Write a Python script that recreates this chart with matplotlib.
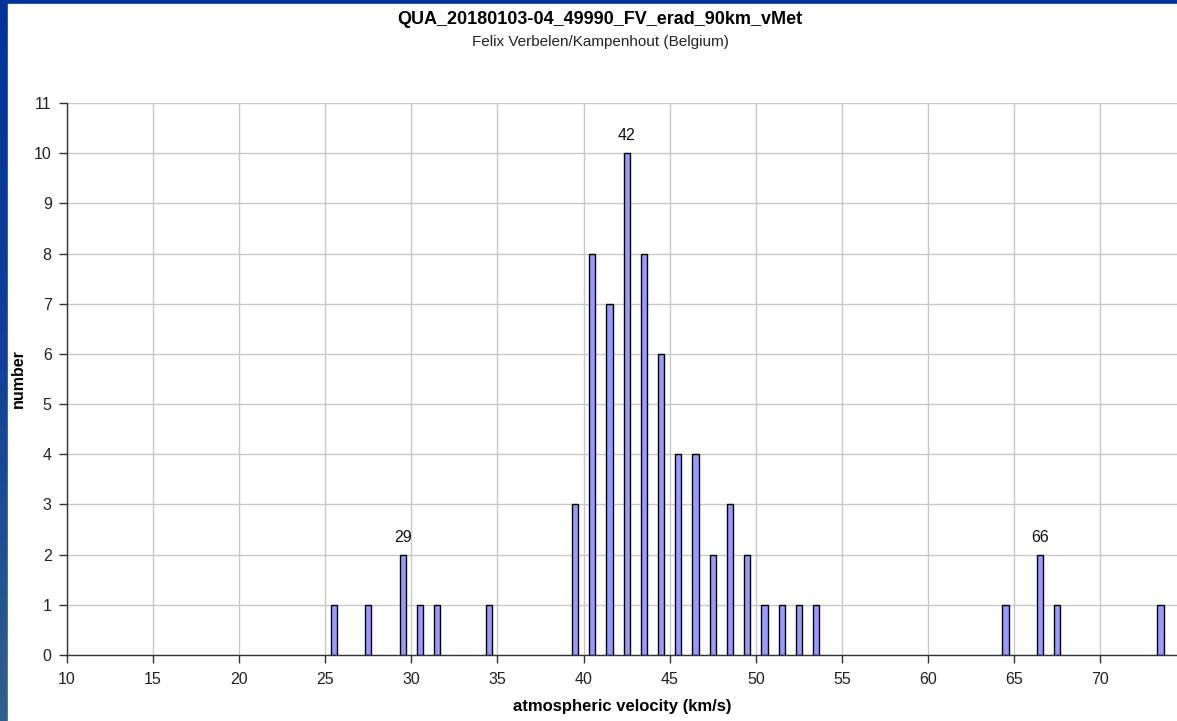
import matplotlib.pyplot as plt
import numpy as np
from matplotlib.colors import LinearSegmentedColormap
from matplotlib.patches import Rectangle

plt.rcParams['font.family'] = ['Liberation Sans', 'DejaVu Sans']

# histogram bins (km/s, bin start) and counts
velocity_bins = [25, 27, 29, 30, 31, 34, 39, 40, 41, 42, 43, 44, 45, 46, 47,
                 48, 49, 50, 51, 52, 53, 64, 66, 67, 73]
counts = [1, 1, 2, 1, 1, 1, 3, 8, 7, 10, 8, 6, 4, 4, 2,
          3, 2, 1, 1, 1, 1, 1, 2, 1, 1]
peak_labels = [29, 42, 66]

title = "QUA_20180103-04_49990_FV_erad_90km_vMet"
subtitle = "Felix Verbelen/Kampenhout (Belgium)"

fig = plt.figure(figsize=(11.77, 7.21), dpi=100)
fig.patch.set_facecolor('#003399')

# blue frame: gradient strip on the left, white panel inside
bg = fig.add_axes([0, 0, 1, 1], zorder=-10)
grad = np.linspace(0, 1, 256).reshape(-1, 1)
frame_cmap = LinearSegmentedColormap.from_list(
    'frame', ['#30608a', '#10409a', '#003399'])
bg.imshow(grad, aspect='auto', extent=[0, 1, 0, 1], origin='lower',
          cmap=frame_cmap)
bg.add_patch(Rectangle((8 / 1177, 0), 1, 1 - 4 / 721, color='white', zorder=2))
bg.set_xlim(0, 1)
bg.set_ylim(0, 1)
bg.axis('off')

ax = fig.add_axes([67 / 1177, 66 / 721, 1 - 67 / 1177, (655 - 103) / 721])
ax.set_facecolor('white')

x = np.array(velocity_bins) + 0.5
ax.bar(x, counts, width=0.36, color='#9999ff', edgecolor='black',
       linewidth=1, zorder=3)

for v in peak_labels:
    c = counts[velocity_bins.index(v)]
    ax.text(v + 0.5, c + 0.2, str(v), ha='center', va='bottom', fontsize=11.5,
            color='#111111')

ax.set_xlim(10, 74.46)
ax.set_ylim(0, 11)
ax.set_xticks(range(10, 75, 5))
ax.set_yticks(range(0, 12))
ax.grid(True, color='#c8c8c8', linewidth=1, zorder=0)
ax.set_axisbelow(True)

for s in ['top', 'right']:
    ax.spines[s].set_visible(False)
for s in ['left', 'bottom']:
    ax.spines[s].set_color('#333333')
    ax.spines[s].set_linewidth(1)
    ax.spines[s].set_zorder(4)

ax.tick_params(axis='both', direction='out', length=6, width=1,
               color='#333333', labelsize=11.5, labelcolor='#222222')
ax.tick_params(axis='x', pad=6)
ax.tick_params(axis='y', pad=5)

ax.set_xlabel("atmospheric velocity (km/s)", fontsize=12, fontweight='bold',
              labelpad=9)
ax.set_ylabel("number", fontsize=11.5, fontweight='bold', va='center')
ax.yaxis.set_label_coords(-0.044, 0.5)

fig.text(0.51, 1 - 19 / 721, title, ha='center', va='center', fontsize=13,
         fontweight='bold')
fig.text(0.51, 1 - 42 / 721, subtitle, ha='center', va='center', fontsize=11,
         color='#222222')

fig.savefig('out.png', dpi=100, facecolor=fig.get_facecolor())
